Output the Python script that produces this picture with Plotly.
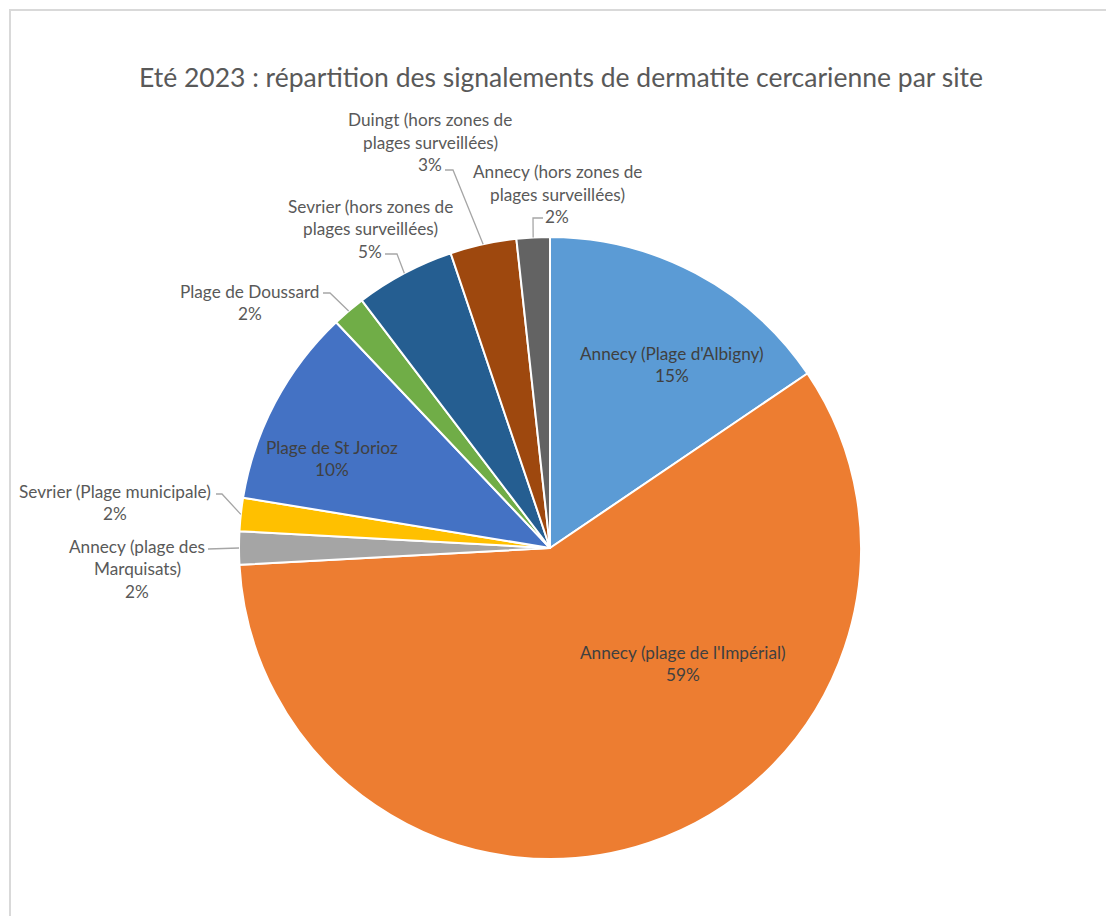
import math
import plotly.graph_objects as go

# ---------------- data ----------------
sites = [
    "Annecy (Plage d'Albigny)",
    "Annecy (plage de l'Impérial)",
    "Annecy (plage des Marquisats)",
    "Sevrier (Plage municipale)",
    "Plage de St Jorioz",
    "Plage de Doussard",
    "Sevrier (hors zones de plages surveillées)",
    "Duingt (hors zones de plages surveillées)",
    "Annecy (hors zones de plages surveillées)",
]
signalements = [9, 34, 1, 1, 6, 1, 3, 2, 1]
pct_labels = ["15%", "59%", "2%", "2%", "10%", "2%", "5%", "3%", "2%"]
label_lines = [
    ["Annecy (Plage d'Albigny)"],
    ["Annecy (plage de l'Impérial)"],
    ["Annecy (plage des", "Marquisats)"],
    ["Sevrier (Plage municipale)"],
    ["Plage de St Jorioz"],
    ["Plage de Doussard"],
    ["Sevrier (hors zones de", "plages surveillées)"],
    ["Duingt (hors zones de", "plages surveillées)"],
    ["Annecy (hors zones de", "plages surveillées)"],
]
colors = ["#5B9BD5", "#ED7D31", "#A5A5A5", "#FFC000", "#4472C4",
          "#70AD47", "#255E91", "#9E480E", "#636363"]
title = "Eté 2023 : répartition des signalements de dermatite cercarienne par site"

# ---------------- layout constants (page pixels) ----------------
W, H = 1098, 908          # figure size (page has an 8px body margin)
OFF = 8
CX, CY, R = 550, 548, 311  # pie centre / radius in page pixels
FONT = "Lato"
LBL_SIZE = 17.2
TITLE_SIZE = 26.5
LINE_H = 22.5

# label placement: (centre x, first-line y, inside?, leader start, leader elbow)
label_pos = [
    (672, 353, True, None, None),
    (683, 652, True, None, None),
    (137, 546, False, (208, 549), None),
    (115, 491, False, (216, 494), (222, 494)),
    (332, 447, True, None, None),
    (250, 291, False, (323, 293), (330, 293)),
    (370, 206, False, (385, 254), (397, 254)),
    (430, 120, False, (445, 170), (453, 170)),
    (557, 172, False, (543, 218), (533, 218)),
]


def px(x):
    return (x - OFF) / W


def py(y):
    return 1 - (y - OFF) / H


fig = go.Figure(go.Pie(
    labels=sites,
    values=signalements,
    sort=False,
    direction="clockwise",
    rotation=0,
    marker=dict(colors=colors, line=dict(color="white", width=2)),
    textinfo="none",
    hoverinfo="label+percent",
    showlegend=False,
    domain=dict(x=[px(CX - R), px(CX + R)], y=[py(CY + R), py(CY - R)]),
))

annotations = []
shapes = []

# leader-line end points from the slice mid angles
total = sum(signalements)
cum = 0.0
mids = []
for v in signalements:
    mids.append((cum + v / 2) / total * 2 * math.pi)
    cum += v

for i, (x, y, inside, start, elbow) in enumerate(label_pos):
    lines = label_lines[i] + [pct_labels[i]]
    col = "#404040" if inside else "#595959"
    for k, t in enumerate(lines):
        annotations.append(dict(
            x=px(x), y=py(y + k * LINE_H), xref="paper", yref="paper",
            text=t, showarrow=False, xanchor="center", yanchor="middle",
            font=dict(family=FONT, size=LBL_SIZE, color=col),
        ))
    if start is not None:
        a = mids[i]
        ex = CX + R * math.sin(a)
        ey = CY - R * math.cos(a)
        pts = [start] + ([elbow] if elbow else []) + [(ex, ey)]
        path = "M " + " L ".join(f"{px(p[0])},{py(p[1])}" for p in pts)
        shapes.append(dict(type="path", xref="paper", yref="paper", path=path,
                           line=dict(color="#A6A6A6", width=1.3)))

# chart-area border (extends past the visible window)
shapes.append(dict(type="rect", xref="paper", yref="paper",
                   x0=px(10), x1=1.1, y0=-0.1, y1=py(10),
                   line=dict(color="#D9D9D9", width=2), fillcolor="rgba(0,0,0,0)"))

fig.update_layout(
    width=W, height=H,
    margin=dict(l=0, r=0, t=0, b=0),
    paper_bgcolor="white",
    title=dict(text=title, x=px(561), xanchor="center", y=py(78), yanchor="middle",
               font=dict(family=FONT, size=TITLE_SIZE, color="#595959")),
    annotations=annotations,
    shapes=shapes,
)

fig.write_html("out.html")
